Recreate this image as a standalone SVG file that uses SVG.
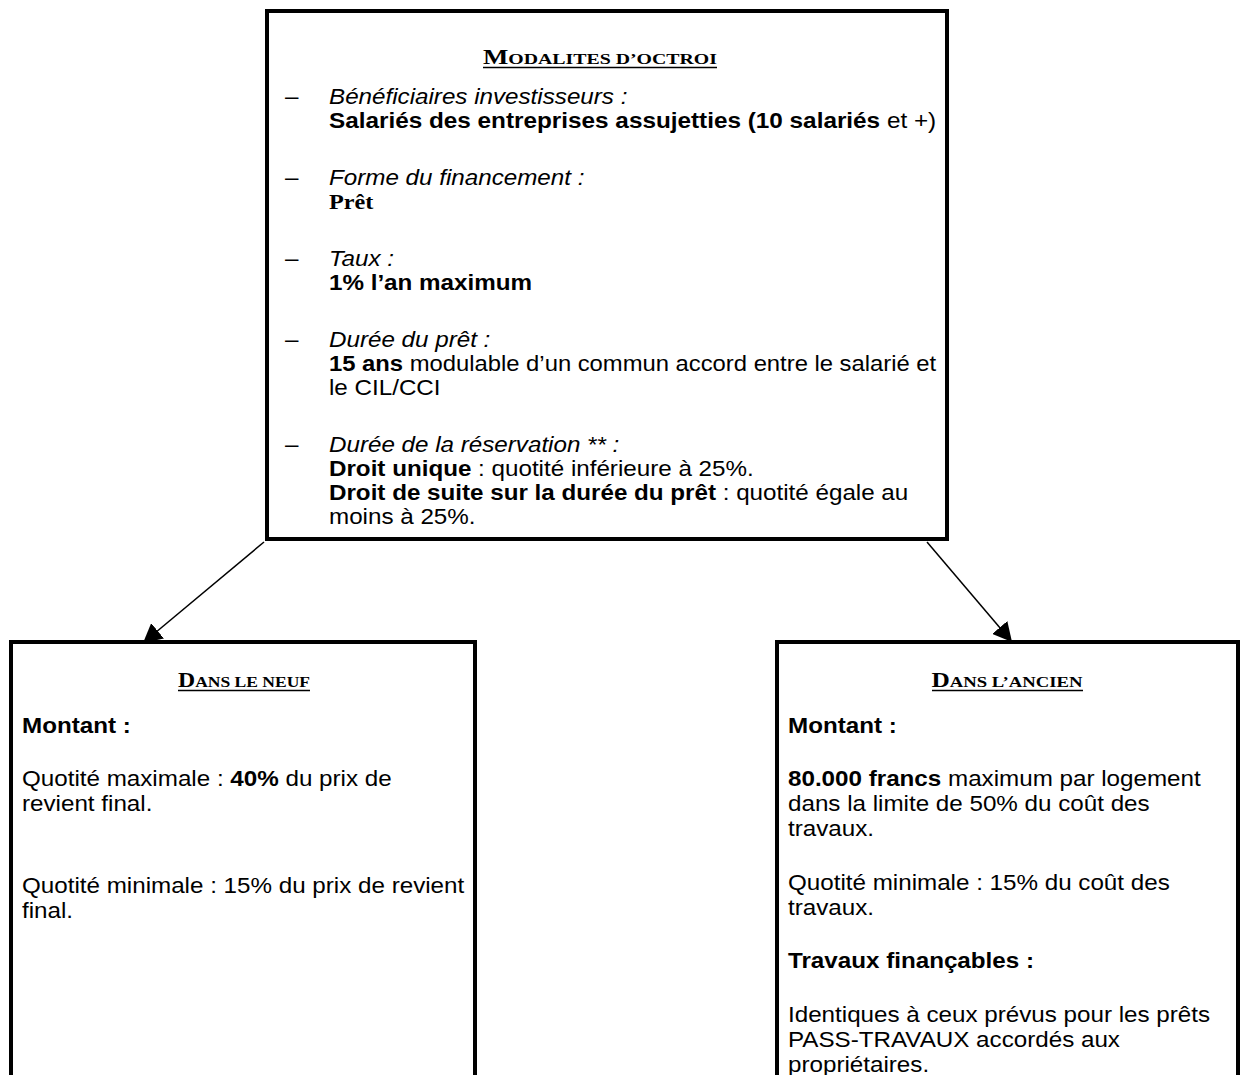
<svg xmlns="http://www.w3.org/2000/svg" width="1242" height="1075" viewBox="0 0 1242 1075">
<style>
.box{fill:#fff;stroke:#000;stroke-width:4}
.t{font-family:"Liberation Sans",Arial,sans-serif;font-size:22px;fill:#000}
.i{font-style:italic}
.b{font-weight:bold}
.serif{font-family:"Liberation Serif","Times New Roman",serif;font-weight:bold}
.title{font-family:"Liberation Serif","Times New Roman",serif;font-weight:bold;fill:#000}
.big{font-size:21px}
.sc{font-size:15.5px}
.ul{stroke:#000;stroke-width:1.5}
.conn{stroke:#000;stroke-width:1.5;fill:none}
</style>
<defs>
<marker id="arrow" markerUnits="userSpaceOnUse" viewBox="0 0 19 20" refX="19" refY="10" markerWidth="19" markerHeight="20" orient="auto">
<path d="M0,0 L19,10 L0,20 z" fill="#000"/>
</marker>
</defs>
<rect width="1242" height="1075" fill="#fff"/>

<g id="connectors">
<line class="conn" x1="264" y1="542" x2="143" y2="643" marker-end="url(#arrow)"/>
<line class="conn" x1="927" y1="542" x2="1012" y2="642" marker-end="url(#arrow)"/>
</g>

<g id="node-modalites">
<rect class="box" x="267" y="11" width="680" height="528"/>
<text class="title" x="600" y="64" text-anchor="middle" textLength="234" lengthAdjust="spacingAndGlyphs"><tspan class="big">M</tspan><tspan class="sc">ODALITES D’OCTROI</tspan></text>
<line class="ul" x1="483" y1="67.5" x2="717" y2="67.5"/>
<g transform="translate(329 0) scale(1.1 1)">
<text class="t" x="-40" y="104">–</text>
<text class="t i" x="0" y="104">Bénéficiaires investisseurs :</text>
<text class="t" x="0" y="128" textLength="552" lengthAdjust="spacingAndGlyphs"><tspan class="b">Salariés des entreprises assujetties (10 salariés</tspan> et +)</text>
<text class="t" x="-40" y="185">–</text>
<text class="t i" x="0" y="185">Forme du financement :</text>
<text class="t serif" x="0" y="209">Prêt</text>
<text class="t" x="-40" y="266">–</text>
<text class="t i" x="0" y="266">Taux :</text>
<text class="t b" x="0" y="290">1% l’an maximum</text>
<text class="t" x="-40" y="347">–</text>
<text class="t i" x="0" y="347">Durée du prêt :</text>
<text class="t" x="0" y="371" textLength="552" lengthAdjust="spacingAndGlyphs"><tspan class="b">15 ans</tspan> modulable d’un commun accord entre le salarié et</text>
<text class="t" x="0" y="395">le CIL/CCI</text>
<text class="t" x="-40" y="452">–</text>
<text class="t i" x="0" y="452">Durée de la réservation ** :</text>
<text class="t" x="0" y="476"><tspan class="b">Droit unique</tspan> : quotité inférieure à 25%.</text>
<text class="t" x="0" y="500"><tspan class="b">Droit de suite sur la durée du prêt</tspan> : quotité égale au</text>
<text class="t" x="0" y="524">moins à 25%.</text>
</g>
</g>

<g id="node-neuf">
<rect class="box" x="11" y="642" width="464" height="480"/>
<text class="title" x="244" y="687" text-anchor="middle" textLength="132" lengthAdjust="spacingAndGlyphs"><tspan class="big">D</tspan><tspan class="sc">ANS LE NEUF</tspan></text>
<line class="ul" x1="178" y1="690.5" x2="310" y2="690.5"/>
<g transform="translate(22 0) scale(1.1 1)">
<text class="t b" x="0" y="733">Montant :</text>
<text class="t" x="0" y="786.5">Quotité maximale : <tspan class="b">40%</tspan> du prix de</text>
<text class="t" x="0" y="811.5">revient final.</text>
<text class="t" x="0" y="893">Quotité minimale : 15% du prix de revient</text>
<text class="t" x="0" y="918">final.</text>
</g>
</g>

<g id="node-ancien">
<rect class="box" x="777" y="642" width="461" height="480"/>
<text class="title" x="1007" y="687" text-anchor="middle" textLength="151" lengthAdjust="spacingAndGlyphs"><tspan class="big">D</tspan><tspan class="sc">ANS L’ANCIEN</tspan></text>
<line class="ul" x1="932" y1="690.5" x2="1083" y2="690.5"/>
<g transform="translate(788 0) scale(1.1 1)">
<text class="t b" x="0" y="733">Montant :</text>
<text class="t" x="0" y="786.5"><tspan class="b">80.000 francs</tspan> maximum par logement</text>
<text class="t" x="0" y="811.5">dans la limite de 50% du coût des</text>
<text class="t" x="0" y="836.5">travaux.</text>
<text class="t" x="0" y="890">Quotité minimale : 15% du coût des</text>
<text class="t" x="0" y="915">travaux.</text>
<text class="t b" x="0" y="968.5">Travaux finançables :</text>
<text class="t" x="0" y="1022">Identiques à ceux prévus pour les prêts</text>
<text class="t" x="0" y="1047">PASS-TRAVAUX accordés aux</text>
<text class="t" x="0" y="1072">propriétaires.</text>
</g>
</g>
</svg>
